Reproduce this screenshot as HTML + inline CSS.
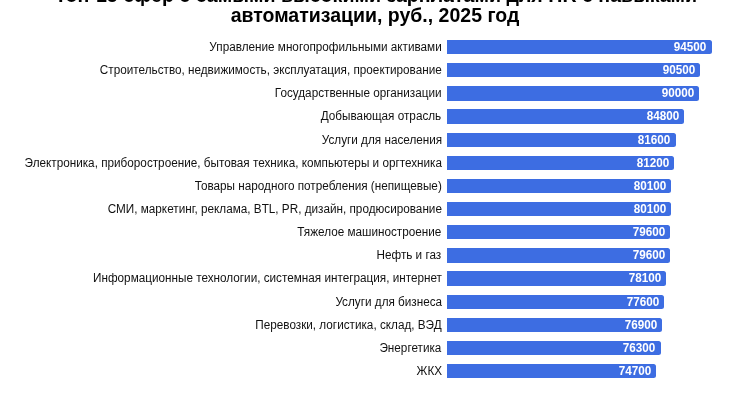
<!DOCTYPE html>
<html lang="ru"><head><meta charset="utf-8"><title>Топ-15 сфер</title>
<style>
html,body{margin:0;padding:0;background:#fff;}
body{width:750px;height:400px;position:relative;overflow:hidden;font-family:"Liberation Sans",Arial,sans-serif;color:#111;}
.t{position:absolute;left:0px;width:750px;text-align:center;font-weight:bold;font-size:20px;line-height:19px;white-space:nowrap;color:#000;transform:scaleX(0.975);transform-origin:50% 50%;}
.l{position:absolute;right:308.3px;height:14px;line-height:14px;font-size:12px;white-space:nowrap;text-align:right;color:#111;transform:scaleX(0.9775);transform-origin:100% 50%;}
.b{position:absolute;left:447px;height:14.3px;background:#3d6de2;border-radius:0 2.5px 2.5px 0;}
.b span{position:absolute;right:4.8px;top:0;height:14.3px;line-height:14.4px;font-size:12px;font-weight:bold;color:#fff;transform:scaleX(0.975);transform-origin:100% 50%;}
</style></head><body>
<div class="t" style="top:-13.6px;left:1px;transform:scaleX(0.98)">Топ-15 сфер с самыми высокими зарплатами для HR с навыками</div>
<div class="t" style="top:6px">автоматизации, руб., 2025 год</div>
<div class="l" style="top:40.00px">Управление многопрофильными активами</div><div class="b" style="top:40.00px;width:264.6px"><span>94500</span></div>
<div class="l" style="top:63.14px">Строительство, недвижимость, эксплуатация, проектирование</div><div class="b" style="top:63.14px;width:253.4px"><span>90500</span></div>
<div class="l" style="top:86.29px">Государственные организации</div><div class="b" style="top:86.29px;width:252.0px"><span>90000</span></div>
<div class="l" style="top:109.43px">Добывающая отрасль</div><div class="b" style="top:109.43px;width:237.4px"><span>84800</span></div>
<div class="l" style="top:132.57px">Услуги для населения</div><div class="b" style="top:132.57px;width:228.5px"><span>81600</span></div>
<div class="l" style="top:155.71px">Электроника, приборостроение, бытовая техника, компьютеры и оргтехника</div><div class="b" style="top:155.71px;width:227.4px"><span>81200</span></div>
<div class="l" style="top:178.86px">Товары народного потребления (непищевые)</div><div class="b" style="top:178.86px;width:224.3px"><span>80100</span></div>
<div class="l" style="top:202.00px">СМИ, маркетинг, реклама, BTL, PR, дизайн, продюсирование</div><div class="b" style="top:202.00px;width:224.3px"><span>80100</span></div>
<div class="l" style="top:225.14px">Тяжелое машиностроение</div><div class="b" style="top:225.14px;width:222.9px"><span>79600</span></div>
<div class="l" style="top:248.29px">Нефть и газ</div><div class="b" style="top:248.29px;width:222.9px"><span>79600</span></div>
<div class="l" style="top:271.43px">Информационные технологии, системная интеграция, интернет</div><div class="b" style="top:271.43px;width:218.7px"><span>78100</span></div>
<div class="l" style="top:294.57px">Услуги для бизнеса</div><div class="b" style="top:294.57px;width:217.3px"><span>77600</span></div>
<div class="l" style="top:317.71px">Перевозки, логистика, склад, ВЭД</div><div class="b" style="top:317.71px;width:215.3px"><span>76900</span></div>
<div class="l" style="top:340.86px">Энергетика</div><div class="b" style="top:340.86px;width:213.6px"><span>76300</span></div>
<div class="l" style="top:364.00px">ЖКХ</div><div class="b" style="top:364.00px;width:209.2px"><span>74700</span></div>
</body></html>
